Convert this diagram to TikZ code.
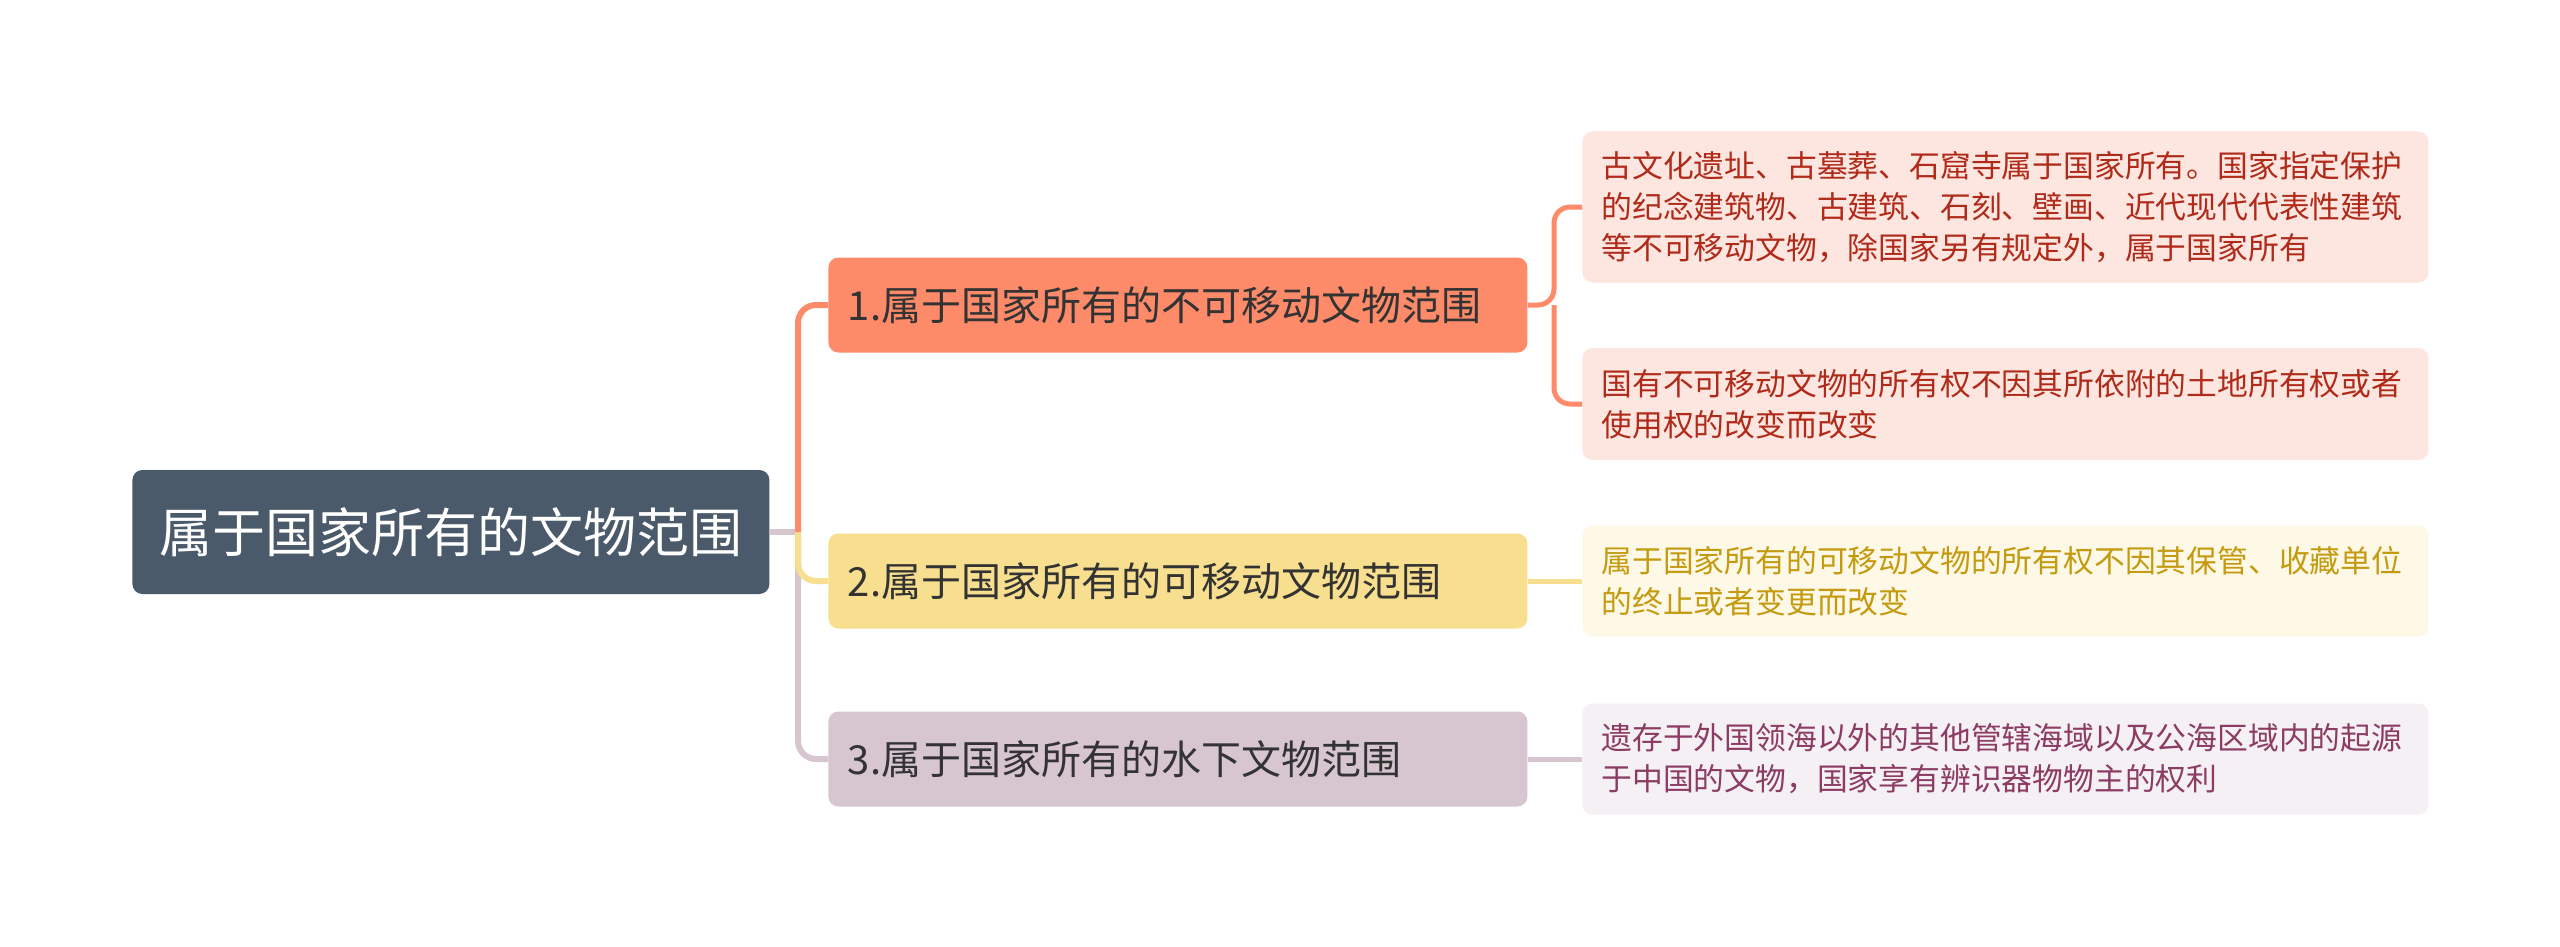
\documentclass[tikz,border=0pt]{standalone}
\usepackage{fontspec}
\usepackage{tikz}
\usetikzlibrary{positioning,calc}
\newfontfamily\cjk{Noto Sans CJK SC}
\definecolor{slate}{HTML}{4A5A6A}
\definecolor{coral}{HTML}{FD8A69}
\definecolor{sand}{HTML}{F7DF8F}
\definecolor{mauve}{HTML}{D7C6CF}
\definecolor{coralpale}{HTML}{FDE6E0}
\definecolor{sandpale}{HTML}{FEF8E7}
\definecolor{mauvepale}{HTML}{F5F0F3}
\definecolor{rusttext}{HTML}{B02A1A}
\definecolor{goldtext}{HTML}{C49A0E}
\definecolor{plumtext}{HTML}{8C3C64}
\definecolor{inktext}{HTML}{333333}

\begin{document}
\begin{tikzpicture}[x=0.5pt, y=-0.5pt,
  topic/.style={fill=slate, rounded corners=5pt, text=white, inner sep=0pt,
    font=\cjk\fontsize{26.5}{30}\selectfont, minimum width=318.5pt, minimum height=62pt, anchor=west},
  branchbox/.style={rounded corners=5pt, text=inktext, font=\cjk\fontsize{20}{24}\selectfont,
    text width=330pt, align=left, inner xsep=9.75pt, inner ysep=0pt, minimum height=47.5pt, anchor=west},
  leafbox/.style={rounded corners=5pt, font=\cjk\fontsize{15.4}{20.5}\selectfont,
    text width=404pt, align=left, inner xsep=9.5pt, inner ysep=0pt, anchor=west},
  link/.style={line width=3pt, rounded corners=9pt},
  leaflink/.style={line width=2.5pt, rounded corners=8pt}]
  \useasboundingbox[fill=white] (0,0) rectangle (2560,947);

  \node[topic] (topic) at (132,532) {属于国家所有的文物范围};

  \node[branchbox, fill=coral] (b1) at (828,305) {1.属于国家所有的不可移动文物范围};
  \node[branchbox, fill=sand]  (b2) at (828,581) {2.属于国家所有的可移动文物范围};
  \node[branchbox, fill=mauve] (b3) at (828,759) {3.属于国家所有的水下文物范围};

  \node[leafbox, fill=coralpale, text=rusttext, minimum height=75.5pt] (l1) at (1582,207)
    {古文化遗址、古墓葬、石窟寺属于国家所有。国家指定保护\\的纪念建筑物、古建筑、石刻、壁画、近代现代代表性建筑\\等不可移动文物，除国家另有规定外，属于国家所有};
  \node[leafbox, fill=coralpale, text=rusttext, minimum height=56pt] (l2) at (1582,404)
    {国有不可移动文物的所有权不因其所依附的土地所有权或者\\使用权的改变而改变};
  \node[leafbox, fill=sandpale, text=goldtext, minimum height=55.5pt] (l3) at (1582,581)
    {属于国家所有的可移动文物的所有权不因其保管、收藏单位\\的终止或者变更而改变};
  \node[leafbox, fill=mauvepale, text=plumtext, minimum height=55.5pt] (l4) at (1582,759)
    {遗存于外国领海以外的其他管辖海域以及公海区域内的起源\\于中国的文物，国家享有辨识器物物主的权利};

  % connectors
  \coordinate (hub) at (798,532);
  \coordinate (j1) at (1554,305);
  \draw[link, mauve] (topic.east) -- (hub);
  \draw[link, mauve] (hub) |- (b3.west);
  \draw[link, sand] (hub) |- (b2.west);
  \draw[link, coral] (hub) |- (b1.west);
  \draw[leaflink, coral] (b1.east) -- (j1) |- (l1.west);
  \draw[leaflink, coral] (j1) |- (l2.west);
  \draw[leaflink, sand] (b2.east) -- (l3.west);
  \draw[leaflink, mauve] (b3.east) -- (l4.west);
\end{tikzpicture}
\end{document}
